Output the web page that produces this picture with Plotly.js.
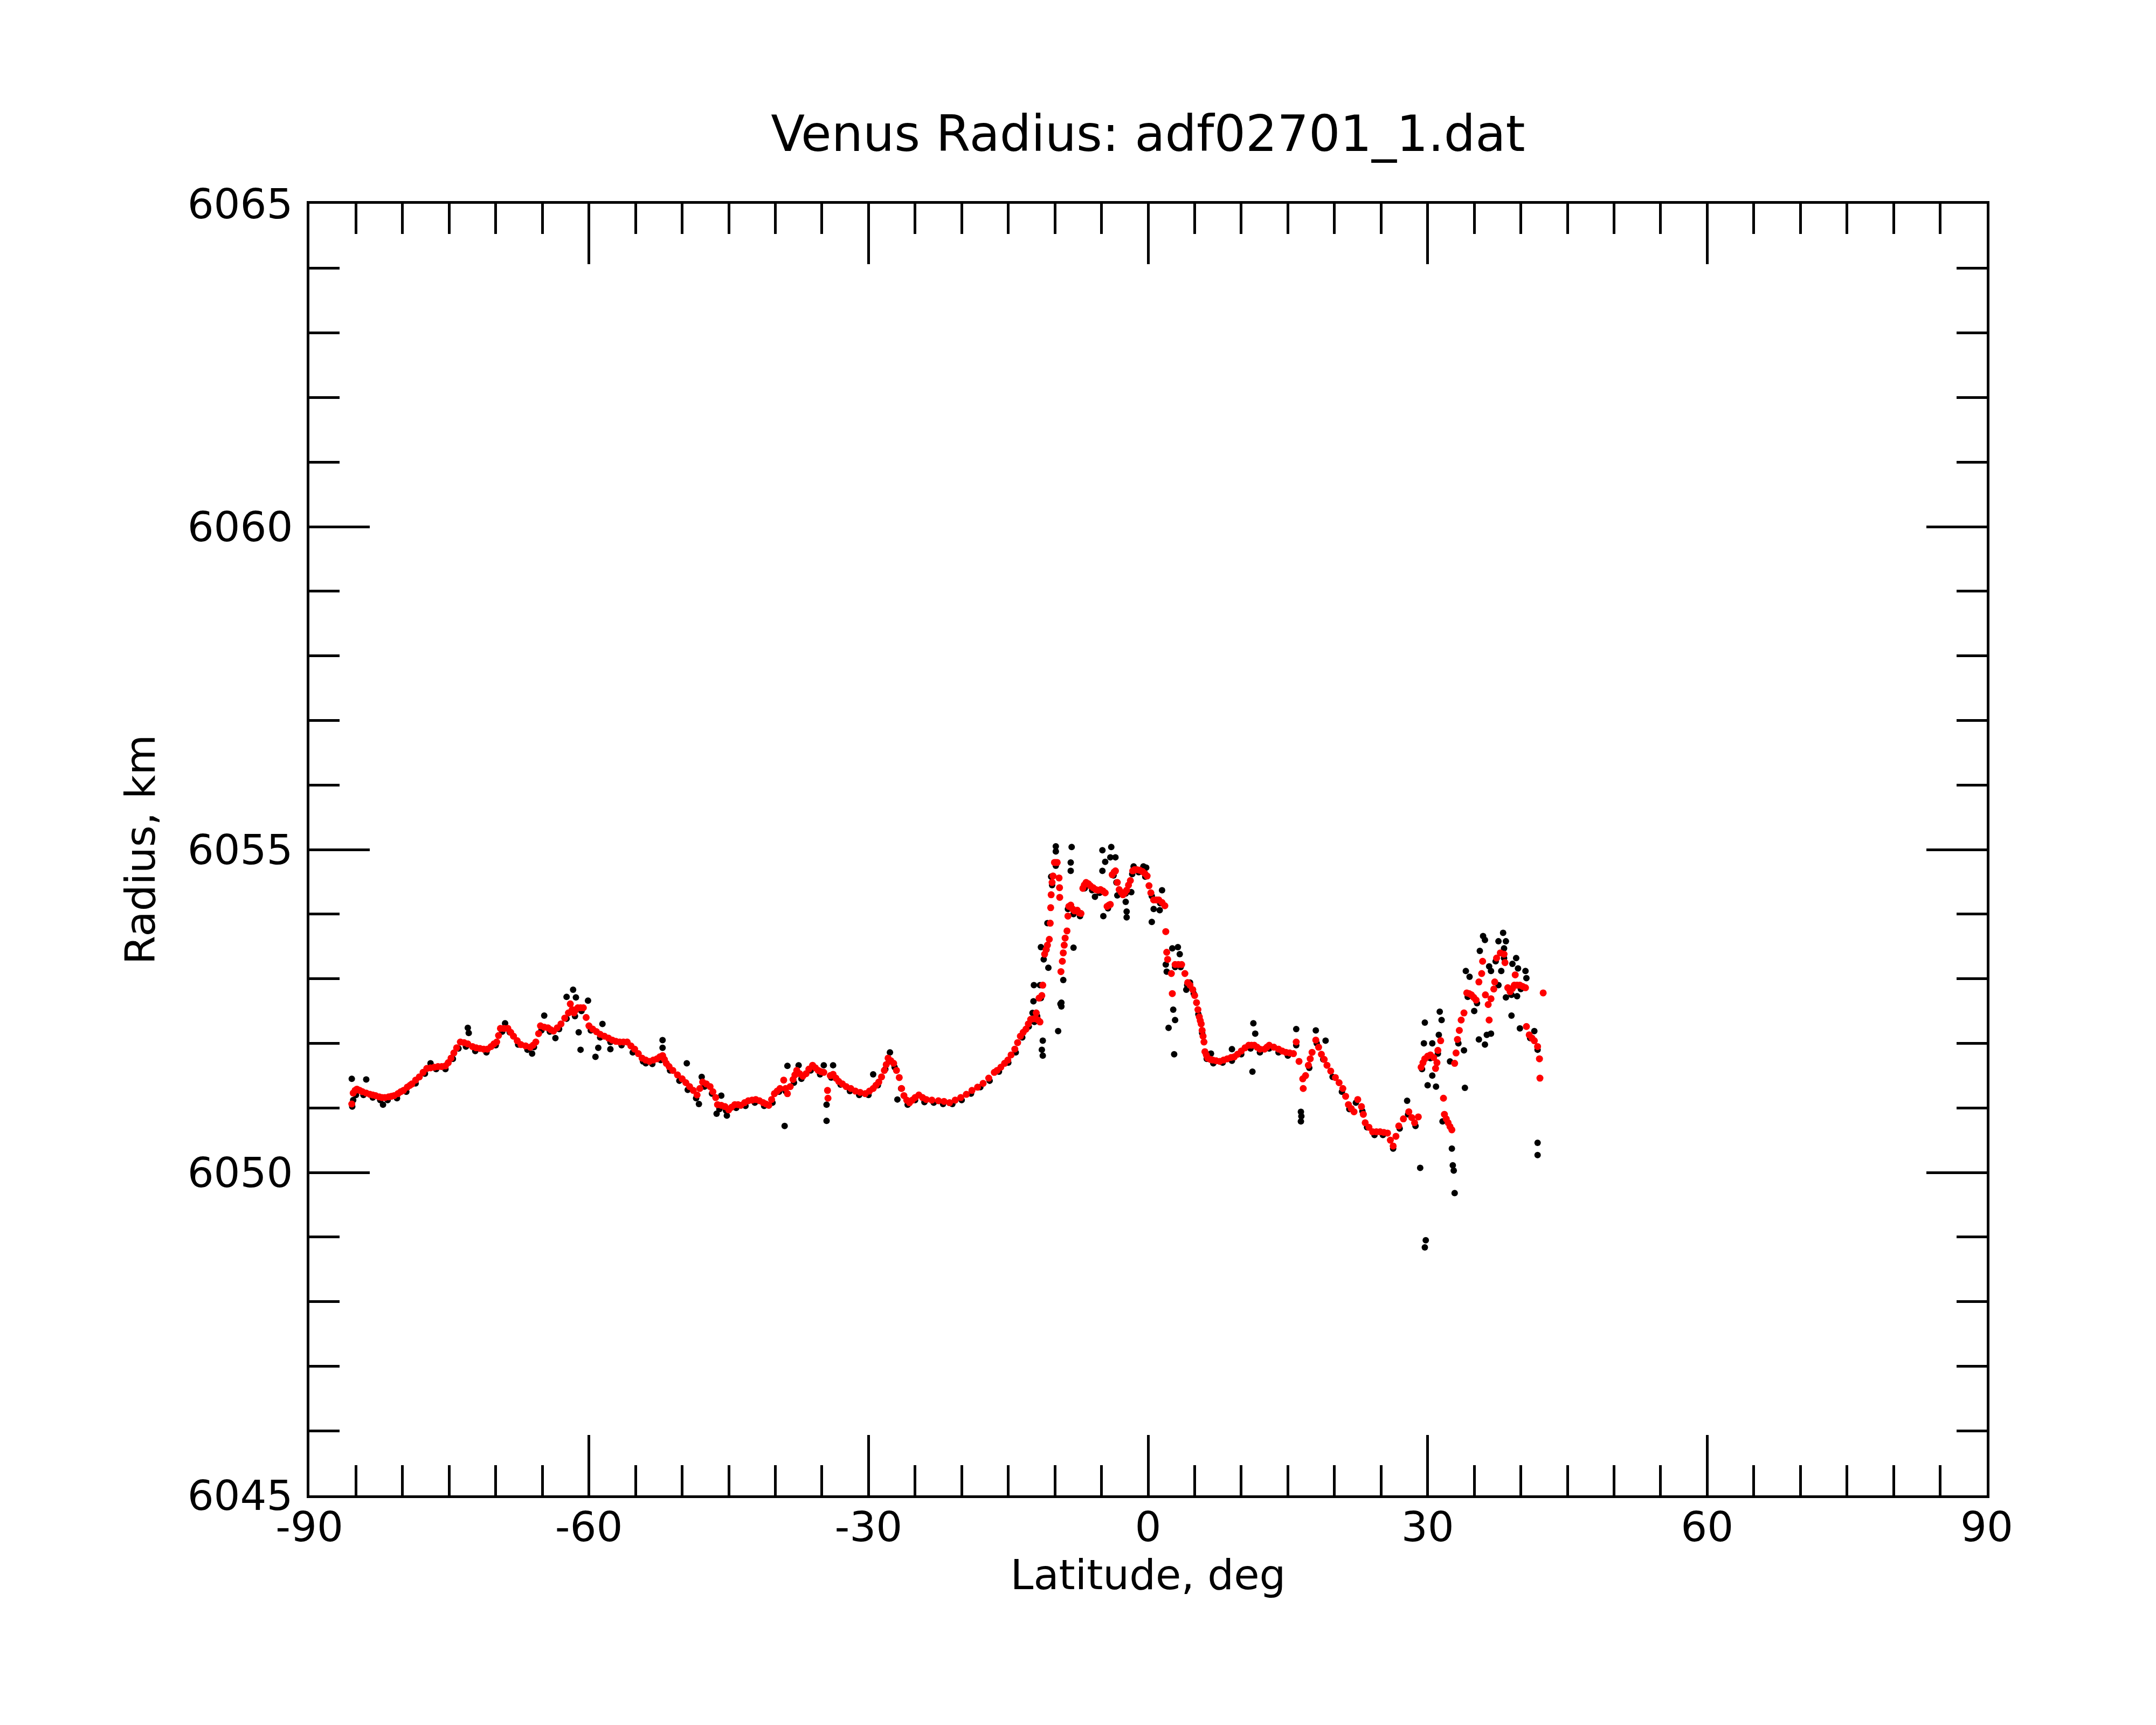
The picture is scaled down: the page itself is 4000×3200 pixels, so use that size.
<!DOCTYPE html>
<html>
<head>
<meta charset="utf-8">
<script src="https://cdn.plot.ly/plotly-3.0.1.min.js"></script>
<style>
  html, body { margin: 0; padding: 0; background: #ffffff; }
  #plot { width: 4000px; height: 3200px; }
</style>
</head>
<body>
<div id="plot"></div>
<script>
// x tick labels and y tick labels
const latTicks = [-90, -60, -30, 0, 30, 60, 90];
const radiusTicks = [6045, 6050, 6055, 6060, 6065];

// smoothed radius (red dots)
const smoothLat = [
  -85.45, -85.3, -85.1, -84.9, -84.6, -84.3, -83.9, -83.5, -83.2, -82.9,
  -82.5, -82.2, -81.9, -81.5, -81.2, -80.9, -80.5, -80.2, -79.9, -79.5,
  -79.2, -79.0, -78.6, -78.2, -77.8, -77.4, -77.0, -76.6, -76.2, -75.8,
  -75.4, -75.1, -74.8, -74.5, -74.2, -73.8, -73.4, -73.0, -72.5, -72.1,
  -71.7, -71.3, -70.9, -70.5, -70.2, -69.9, -69.7, -69.5, -69.1, -68.7,
  -68.4, -68.1, -67.7, -67.3, -66.8, -66.3, -66.0, -65.7, -65.4, -65.2,
  -64.8, -64.4, -64.1, -63.8, -63.4, -63.0, -62.6, -62.2, -62.0, -61.8,
  -61.6, -61.4, -61.2, -60.9, -60.6, -60.3, -60.0, -59.6, -59.2, -58.8,
  -58.35, -57.9, -57.5, -57.1, -56.7, -56.3, -55.9, -55.5, -55.1, -54.7,
  -54.3, -53.9, -53.5, -53.1, -52.7, -52.4, -52.1, -51.9, -51.7, -51.4,
  -51.0, -50.5, -50.0, -49.6, -49.2, -48.8, -48.4, -48.1, -47.8, -47.4,
  -47.0, -46.7, -46.4, -46.2, -45.8, -45.4, -45.0, -44.7, -44.35, -44.0,
  -43.7, -43.3, -42.9, -42.5, -42.1, -41.7, -41.3, -41.0, -40.7, -40.4,
  -40.1, -39.8, -39.5, -39.1, -38.9, -38.7, -38.4, -38.1, -37.9, -37.7,
  -37.4, -37.05, -36.7, -36.4, -36.0, -35.7, -35.4, -35.1, -34.8, -34.4,
  -34.35, -34.1, -33.8, -33.5, -33.2, -32.8, -32.4, -31.9, -31.4, -30.9,
  -30.35, -29.9, -29.5, -29.2, -28.9, -28.6, -28.3, -28.1, -27.9, -27.6,
  -27.3, -27.0, -26.7, -26.45, -26.2, -25.9, -25.6, -25.3, -25.0, -24.6,
  -24.2, -23.8, -23.2, -22.5, -21.9, -21.3, -20.7, -20.1, -19.5, -18.9,
  -18.3, -17.7, -17.1, -16.5, -16.2, -15.8, -15.4, -15.05, -14.7, -14.3,
  -14.0, -13.7, -13.4, -13.1, -12.85, -12.6, -12.3, -12.05, -12.0, -11.8,
  -11.7, -11.6, -11.4, -11.3, -11.1, -10.95, -10.8, -10.6, -10.5, -10.45,
  -10.4, -10.3, -10.2, -10.05, -9.9, -9.75, -9.55, -9.5, -9.48, -9.35,
  -9.2, -9.1, -9.0, -8.9, -8.7, -8.6, -8.5, -8.3, -8.1, -7.9,
  -7.6, -7.4, -7.2, -7.0, -6.85, -6.65, -6.4, -6.2, -5.9, -5.6,
  -5.35, -5.1, -4.85, -4.6, -4.4, -4.2, -4.05, -3.85, -3.65, -3.5,
  -3.3, -3.1, -2.9, -2.7, -2.5, -2.3, -2.1, -1.9, -1.65, -1.45,
  -1.2, -0.9, -0.6, -0.35, -0.1, 0.1, 0.3, 0.6, 0.9, 1.15,
  1.5, 1.8, 1.9, 2.0, 2.1, 2.5, 2.6, 2.9, 3.25, 3.6,
  3.95, 4.25, 4.5, 4.8, 5.0, 5.2, 5.35, 5.5, 5.6, 5.7,
  5.8, 5.9, 6.0, 6.1, 6.25, 6.4, 6.7, 6.95, 7.3, 7.7,
  8.1, 8.5, 8.9, 9.25, 9.6, 10.0, 10.4, 10.8, 11.1, 11.4,
  11.7, 12.0, 12.5, 12.75, 13.0, 13.5, 14.0, 14.4, 14.8, 15.2,
  15.6, 15.9, 16.2, 16.6, 16.65, 16.9, 17.2, 17.4, 17.6, 18.0,
  18.3, 18.6, 18.9, 19.2, 19.6, 20.1, 20.5, 20.9, 21.2, 21.5,
  21.8, 22.1, 22.5, 22.9, 23.1, 23.3, 23.7, 24.1, 24.5, 24.9,
  25.3, 25.7, 26.0, 26.3, 26.6, 26.9, 27.4, 27.98, 28.3, 28.6,
  29.0, 29.3, 29.5, 29.7, 30.0, 30.3, 30.65, 30.85, 31.0, 31.1,
  31.4, 31.7, 31.8, 32.0, 32.2, 32.4, 32.6, 32.9, 33.05, 33.2,
  33.4, 33.6, 33.9, 34.2, 34.45, 34.7, 34.95, 35.2, 35.5, 35.8,
  35.9, 36.2, 36.5, 36.6, 36.8, 37.1, 37.2, 37.4, 37.8, 38.2,
  38.3, 38.6, 38.85, 39.1, 39.3, 39.4, 39.6, 39.9, 40.2, 40.5,
  40.6, 40.9, 41.2, 41.45, 41.8, 42.0, 42.05, 42.4
];
const smoothRadius = [
  6051.06, 6051.23, 6051.27, 6051.29, 6051.27, 6051.25, 6051.23, 6051.21, 6051.20, 6051.19,
  6051.17, 6051.16, 6051.16, 6051.17, 6051.18, 6051.19, 6051.22, 6051.25, 6051.27, 6051.32,
  6051.35, 6051.37, 6051.43, 6051.48, 6051.55, 6051.61, 6051.62, 6051.63, 6051.64, 6051.64,
  6051.65, 6051.70, 6051.77, 6051.85, 6051.93, 6052.02, 6052.01, 6051.99, 6051.95, 6051.93,
  6051.92, 6051.91, 6051.91, 6051.95, 6051.99, 6052.02, 6052.12, 6052.23, 6052.23, 6052.23,
  6052.17, 6052.11, 6052.04, 6051.98, 6051.96, 6051.94, 6051.97, 6052.02, 6052.15, 6052.27,
  6052.25, 6052.24, 6052.21, 6052.19, 6052.24, 6052.30, 6052.39, 6052.47, 6052.61, 6052.52,
  6052.47, 6052.52, 6052.55, 6052.55, 6052.55, 6052.40, 6052.27, 6052.22, 6052.18, 6052.14,
  6052.11, 6052.08, 6052.05, 6052.03, 6052.02, 6052.02, 6052.02, 6051.96, 6051.91, 6051.84,
  6051.77, 6051.74, 6051.72, 6051.74, 6051.76, 6051.79, 6051.81, 6051.75, 6051.69, 6051.64,
  6051.58, 6051.51, 6051.45, 6051.39, 6051.33, 6051.27, 6051.20, 6051.30, 6051.40, 6051.37,
  6051.33, 6051.25, 6051.16, 6051.05, 6051.04, 6051.02, 6050.97, 6051.01, 6051.05, 6051.05,
  6051.04, 6051.08, 6051.11, 6051.12, 6051.13, 6051.11, 6051.08, 6051.06, 6051.04, 6051.13,
  6051.22, 6051.26, 6051.30, 6051.43, 6051.30, 6051.22, 6051.33, 6051.44, 6051.51, 6051.58,
  6051.53, 6051.49, 6051.53, 6051.60, 6051.66, 6051.62, 6051.58, 6051.56, 6051.55, 6051.27,
  6051.15, 6051.50, 6051.52, 6051.46, 6051.41, 6051.37, 6051.33, 6051.30, 6051.26, 6051.24,
  6051.22, 6051.26, 6051.30, 6051.35, 6051.40, 6051.48, 6051.58, 6051.67, 6051.77, 6051.73,
  6051.69, 6051.58, 6051.47, 6051.30, 6051.19, 6051.12, 6051.08, 6051.12, 6051.16, 6051.20,
  6051.16, 6051.13, 6051.12, 6051.11, 6051.10, 6051.08, 6051.12, 6051.16, 6051.21, 6051.27,
  6051.32, 6051.38, 6051.46, 6051.55, 6051.58, 6051.63, 6051.69, 6051.74, 6051.82, 6051.91,
  6052.01, 6052.11, 6052.17, 6052.22, 6052.30, 6052.37, 6052.38, 6052.38, 6052.47, 6052.36,
  6052.70, 6052.33, 6052.74, 6052.90, 6053.38, 6053.45, 6053.52, 6053.61, 6053.86, 6054.10,
  6054.30, 6054.49, 6054.59, 6054.80, 6054.80, 6054.80, 6054.56, 6054.41, 6054.26, 6053.11,
  6053.27, 6053.40, 6053.52, 6053.63, 6053.74, 6053.97, 6054.12, 6054.14, 6054.08, 6054.05,
  6054.06, 6054.02, 6054.01, 6054.40, 6054.45, 6054.49, 6054.47, 6054.44, 6054.41, 6054.38,
  6054.37, 6054.38, 6054.36, 6054.33, 6054.12, 6054.14, 6054.15, 6054.61, 6054.65, 6054.67,
  6054.49, 6054.38, 6054.34, 6054.30, 6054.33, 6054.37, 6054.45, 6054.52, 6054.67, 6054.69,
  6054.69, 6054.68, 6054.66, 6054.63, 6054.59, 6054.44, 6054.33, 6054.22, 6054.22, 6054.22,
  6054.18, 6054.13, 6053.73, 6053.41, 6053.30, 6053.08, 6052.77, 6053.22, 6053.22, 6053.22,
  6053.08, 6052.94, 6052.90, 6052.83, 6052.74, 6052.63, 6052.52, 6052.41, 6052.35, 6052.30,
  6052.20, 6052.11, 6052.02, 6051.87, 6051.82, 6051.77, 6051.75, 6051.74, 6051.73, 6051.72,
  6051.74, 6051.76, 6051.78, 6051.79, 6051.83, 6051.88, 6051.93, 6051.97, 6051.97, 6051.97,
  6051.94, 6051.91, 6051.91, 6051.94, 6051.97, 6051.94, 6051.91, 6051.88, 6051.86, 6051.85,
  6051.84, 6052.02, 6051.72, 6051.45, 6051.30, 6051.50, 6051.66, 6051.76, 6051.86, 6052.05,
  6051.94, 6051.83, 6051.75, 6051.66, 6051.57, 6051.47, 6051.39, 6051.30, 6051.18, 6051.05,
  6050.99, 6050.94, 6051.13, 6051.02, 6050.90, 6050.77, 6050.70, 6050.63, 6050.63, 6050.63,
  6050.62, 6050.61, 6050.50, 6050.41, 6050.56, 6050.72, 6050.83, 6050.94, 6050.85, 6050.77,
  6050.86, 6051.63, 6051.70, 6051.76, 6051.80, 6051.82, 6051.78, 6051.61, 6051.70, 6051.89,
  6052.04, 6051.15, 6050.90, 6050.83, 6050.77, 6050.71, 6050.66, 6051.69, 6051.85, 6052.06,
  6052.20, 6052.36, 6052.47, 6052.78, 6052.77, 6052.75, 6052.71, 6052.67, 6052.95, 6053.08,
  6053.27, 6052.75, 6052.60, 6052.36, 6052.69, 6052.84, 6052.95, 6053.32, 6053.40, 6053.38,
  6053.25, 6052.86, 6052.80, 6052.85, 6052.90, 6053.06, 6052.90, 6052.90, 6052.88, 6052.86,
  6052.26, 6052.13, 6052.08, 6052.04, 6051.95, 6051.76, 6051.46, 6052.78
];

// raw radius (black dots)
const rawLat = [
  -85.4, -85.0, -84.2, -83.2, -82.4, -81.6, -80.6, -79.6, -78.6, -77.6,
  -76.4, -75.4, -74.6, -74.0, -73.2, -72.2, -71.0, -70.0, -69.3, -68.5,
  -67.6, -66.6, -65.9, -65.1, -64.2, -63.2, -62.4, -61.5, -60.8, -59.8,
  -58.8, -57.7, -56.5, -55.3, -54.2, -53.2, -52.3, -51.3, -50.3, -49.4,
  -48.5, -47.6, -46.8, -46.0, -45.3, -44.2, -43.2, -42.2, -41.2, -40.3,
  -39.6, -38.9, -38.0, -37.2, -36.2, -35.2, -34.0, -33.0, -32.0, -31.0,
  -30.0, -29.0, -28.2, -27.8, -27.2, -26.5, -25.8, -25.0, -24.0, -23.0,
  -22.0, -21.0, -20.0, -19.0, -18.0, -17.0, -16.0, -15.0, -14.2, -13.5,
  -12.8, -12.2, -11.9, -11.5, -11.2, -10.9, -10.3, -9.9, -8.6, -8.0,
  -7.3, -6.8, -6.0, -5.2, -4.3, -3.7, -3.0, -2.4, -1.7, -1.0,
  -0.3, 0.4, 1.3, 2.9, 3.5, 4.2, 4.9, 5.4, 5.8, 6.3,
  7.0, 8.0, 9.0, 10.0, 11.0, 12.0, 13.0, 14.0, 15.0, 15.9,
  17.3, 18.1, 18.8, 19.8, 20.8, 21.6, 22.3, 23.0, 23.5, 24.3,
  25.2, 26.3, 27.0, 27.9, 28.7, 29.4, 30.3, 31.1, 33.3, 34.3,
  35.3, 37.3, 38.2, 39.0, 40.0, 41.0, 41.8,
  -85.45, -83.9, -85.3, -82.1, -77.0, -73.0, -72.9, -69.0, -66.1, -64.8,
  -63.6, -61.7, -62.4, -61.4, -60.1, -61.1, -60.9, -59.0, -59.3, -58.55,
  -57.7, -52.1, -52.1, -53.9, -49.5, -48.2, -47.9, -45.8, -46.3, -45.2,
  -39.0, -38.7, -37.5, -34.8, -33.8, -34.5, -34.5, -29.5, -27.7, -26.9,
  -12.25, -11.6, -12.3, -12.4, -11.3, -11.4, -11.3, -11.5, -10.7, -10.8,
  -10.4, -9.9, -9.9, -8.2, -8.3, -8.3, -8.0, -9.1, -9.3, -9.3,
  -9.65, -9.4, -4.9, -3.95, -4.05, -3.5, -4.6, -4.9, -4.8, -5.7,
  -3.4, -3.3, -2.4, -2.3, -2.3, -1.8, -1.55, -0.5, -0.2, 0.4,
  0.6, 1.25, 1.5, 1.9, 2.0, 2.6, 3.2, 3.4, 2.7, 2.9,
  2.2, 2.8, 4.1, 4.5, 6.75, 9.0, 11.3, 11.5, 11.2, 15.9,
  16.4, 16.4, 16.45, 18.0, 19.05, 27.8, 29.2, 29.8, 29.7, 29.7,
  29.6, 30.5, 30.0, 30.5, 30.9, 31.3, 31.5, 31.2, 32.6, 32.7,
  32.8, 32.9, 31.6, 32.4, 33.9, 34.0, 34.1, 34.5, 35.0, 35.6,
  35.95, 36.15, 35.5, 36.15, 36.35, 36.8, 36.8, 36.6, 37.6, 38.1,
  38.4, 38.2, 37.9, 37.6, 39.0, 39.5, 39.1, 39.7, 40.5, 40.6,
  39.6, 39.9, 41.45, 41.8, 41.8, 38.4
];
const rawRadius = [
  6051.02, 6051.20, 6051.20, 6051.16, 6051.12, 6051.12, 6051.15, 6051.25, 6051.38, 6051.53,
  6051.60, 6051.60, 6051.76, 6051.92, 6051.95, 6051.88, 6051.86, 6051.97, 6052.18, 6052.17,
  6051.98, 6051.90, 6051.94, 6052.20, 6052.18, 6052.22, 6052.38, 6052.42, 6052.50, 6052.20,
  6052.09, 6052.02, 6051.97, 6051.86, 6051.72, 6051.68, 6051.74, 6051.58, 6051.42, 6051.28,
  6051.15, 6051.33, 6051.22, 6050.98, 6050.96, 6051.00, 6051.03, 6051.08, 6051.03, 6051.08,
  6051.25, 6051.26, 6051.39, 6051.45, 6051.58, 6051.52, 6051.47, 6051.36, 6051.26, 6051.20,
  6051.20, 6051.35, 6051.60, 6051.72, 6051.63, 6051.30, 6051.05, 6051.12, 6051.09, 6051.08,
  6051.06, 6051.06, 6051.12, 6051.22, 6051.32, 6051.42, 6051.56, 6051.70, 6051.86, 6052.09,
  6052.26, 6052.33, 6052.42, 6052.70, 6053.30, 6053.45, 6054.45, 6054.75, 6054.08, 6054.00,
  6053.97, 6054.40, 6054.37, 6054.33, 6054.09, 6054.60, 6054.32, 6054.32, 6054.62, 6054.65,
  6054.58, 6054.28, 6054.17, 6053.18, 6053.18, 6052.90, 6052.77, 6052.45, 6052.16, 6051.76,
  6051.69, 6051.70, 6051.73, 6051.83, 6051.92, 6051.86, 6051.92, 6051.86, 6051.81, 6051.97,
  6051.62, 6052.00, 6051.75, 6051.48, 6051.25, 6050.98, 6051.08, 6050.95, 6050.70, 6050.58,
  6050.58, 6050.37, 6050.68, 6050.90, 6050.72, 6051.60, 6051.77, 6051.84, 6052.00, 6052.72,
  6052.62, 6053.27, 6053.32, 6052.75, 6052.84, 6052.08, 6051.90,
  6051.45, 6051.44, 6051.12, 6051.05, 6051.69, 6052.24, 6052.16, 6052.31, 6051.84, 6052.43,
  6052.08, 6052.83, 6052.72, 6052.71, 6052.66, 6052.17, 6051.90, 6051.93, 6051.79, 6052.30,
  6051.91, 6052.05, 6051.93, 6051.69, 6051.69, 6051.06, 6051.48, 6051.19, 6050.91, 6050.88,
  6050.72, 6051.65, 6051.66, 6051.66, 6051.66, 6051.05, 6050.80, 6051.52, 6051.86, 6051.13,
  6052.90, 6052.90, 6052.65, 6052.47, 6052.04, 6051.90, 6051.81, 6053.49, 6053.17, 6053.86,
  6054.58, 6055.05, 6054.97, 6055.04, 6054.80, 6054.67, 6053.48, 6052.98, 6052.63, 6052.57,
  6052.19, 6052.61, 6054.99, 6055.04, 6054.88, 6054.88, 6054.81, 6054.67, 6053.97, 6054.27,
  6054.49, 6054.29, 6054.19, 6054.04, 6053.95, 6054.34, 6054.74, 6054.74, 6054.72, 6053.88,
  6054.08, 6054.06, 6054.37, 6053.22, 6053.11, 6053.47, 6053.49, 6053.38, 6052.52, 6052.36,
  6052.24, 6051.83, 6052.83, 6052.94, 6051.84, 6051.91, 6052.31, 6052.15, 6051.56, 6052.22,
  6050.79, 6050.94, 6050.87, 6052.20, 6052.04, 6051.11, 6050.07, 6048.95, 6048.84, 6052.32,
  6052.00, 6052.00, 6051.35, 6051.50, 6051.33, 6052.49, 6052.36, 6052.13, 6050.37, 6050.11,
  6050.03, 6049.68, 6050.79, 6051.72, 6051.89, 6051.31, 6053.12, 6053.03, 6052.50, 6053.43,
  6053.66, 6053.60, 6052.06, 6051.98, 6052.13, 6052.15, 6053.12, 6053.19, 6053.58, 6053.71,
  6053.58, 6053.47, 6053.12, 6052.90, 6052.43, 6053.32, 6053.23, 6053.16, 6053.12, 6053.01,
  6052.73, 6052.23, 6052.19, 6050.46, 6050.27, 6052.71
];

const axisFont = { family: 'DejaVu Sans, sans-serif', size: 77, color: '#000000' };

const rawTrace = {
  x: rawLat,
  y: rawRadius,
  type: 'scatter',
  mode: 'markers',
  marker: { color: '#000000', size: 12, line: { width: 0 } },
  hoverinfo: 'skip'
};

const smoothTrace = {
  x: smoothLat,
  y: smoothRadius,
  type: 'scatter',
  mode: 'markers',
  marker: { color: '#ff0000', size: 13, line: { width: 0 } },
  hoverinfo: 'skip'
};

const layout = {
  width: 4000,
  height: 3200,
  showlegend: false,
  paper_bgcolor: '#ffffff',
  plot_bgcolor: '#ffffff',
  margin: { l: 574, r: 314, t: 378, b: 426, pad: 0 },
  font: axisFont,
  title: {
    text: 'Venus Radius: adf02701_1.dat',
    font: { family: 'DejaVu Sans, sans-serif', size: 92, color: '#000000' },
    xref: 'paper',
    x: 0.5,
    xanchor: 'center',
    yref: 'container',
    y: 0.9227,
    yanchor: 'middle'
  },
  xaxis: {
    range: [-90, 90],
    tickmode: 'array',
    tickvals: latTicks,
    ticktext: latTicks.map(String),
    ticks: 'inside',
    ticklen: 112,
    tickwidth: 5,
    tickcolor: '#000000',
    minor: { dtick: 5, tick0: -90, ticks: 'inside', ticklen: 56, tickwidth: 5, tickcolor: '#000000', showgrid: false },
    showline: true,
    linewidth: 5,
    linecolor: '#000000',
    mirror: 'ticks',
    showgrid: false,
    zeroline: false,
    tickfont: axisFont,
    ticklabelstandoff: -12,
    title: { text: 'Latitude, deg', font: axisFont, standoff: 0 }
  },
  yaxis: {
    range: [6045, 6065],
    tickmode: 'array',
    tickvals: radiusTicks,
    ticktext: radiusTicks.map(String),
    ticks: 'inside',
    ticklen: 112,
    tickwidth: 5,
    tickcolor: '#000000',
    minor: { dtick: 1, tick0: 6045, ticks: 'inside', ticklen: 56, tickwidth: 5, tickcolor: '#000000', showgrid: false },
    showline: true,
    linewidth: 5,
    linecolor: '#000000',
    mirror: 'ticks',
    showgrid: false,
    zeroline: false,
    tickfont: axisFont,
    ticklabelstandoff: 10,
    title: { text: 'Radius, km', font: axisFont, standoff: 36 }
  }
};

Plotly.newPlot('plot', [rawTrace, smoothTrace], layout, { displayModeBar: false, staticPlot: true });
</script>
</body>
</html>
